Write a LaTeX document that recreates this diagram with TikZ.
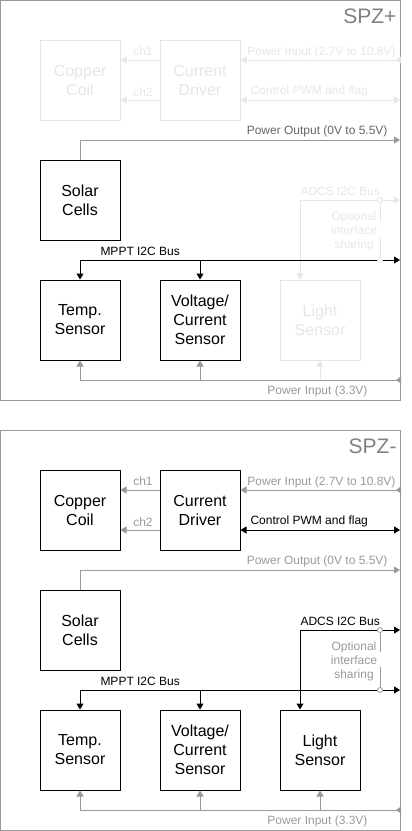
\documentclass[tikz,border=0pt]{standalone}
\usepackage{fontspec}
\setmainfont{Liberation Sans}
\usetikzlibrary{arrows.meta}
\definecolor{fade}{HTML}{E6E6E6}
\definecolor{mid}{HTML}{999999}
\definecolor{dk}{HTML}{666666}
\definecolor{lbl}{HTML}{808080}
\begin{document}
\begin{tikzpicture}[x=1pt,y=-1pt, line width=1pt,
  box/.style={draw, minimum width=80pt, minimum height=80pt, inner sep=0pt, align=center, font=\fontsize{16}{19}\selectfont},
  fadebox/.style={box, draw=fade, text=fade},
  lab/.style={inner sep=0pt, font=\fontsize{12}{14}\selectfont},
  biglab/.style={inner sep=0pt, font=\fontsize{21}{24}\selectfont, text=lbl, anchor=base east},
  arr/.style={-{Triangle[length=6pt,width=7pt]}},
  darr/.style={{Triangle[length=6pt,width=7pt]}-{Triangle[length=6pt,width=7pt]}},
  optc/.style={circle, draw, fill=white, minimum size=5pt, inner sep=0pt, line width=0.8pt},
  port/.style={fill},
]
\useasboundingbox (0,0) rectangle (412,831);

% ---------------- SPZ+ ----------------
\begin{scope}
\draw[mid] (0.5,0.5) rectangle (400.5,400.5);
\node[biglab] (aspz) at (397,23) {SPZ+};
\node[fadebox] (acoil) at (80,80) {Copper\\Coil};
\node[fadebox] (adrv) at (200,80) {Current\\Driver};
\node[box] (asol) at (80,200) {Solar\\Cells};
\node[box] (atemp) at (80,320) {Temp.\\Sensor};
\node[box] (avc) at (200,320) {Voltage/\\Current\\Sensor};
\node[fadebox] (alight) at (320,320) {Light\\Sensor};
\coordinate (apin) at (400,60);
\coordinate (apwm) at (400,100);
\coordinate (apout) at (400,140);
\coordinate (aadcs) at (400,200);
\coordinate (amppt) at (400,260);
\coordinate (ap33) at (400,380);
% coil / driver
\draw[arr, fade] (adrv.west |- apin) -- (acoil.east |- apin);
\draw[arr, fade] (adrv.west |- apwm) -- (acoil.east |- apwm);
\node[lab, text=fade, anchor=base] (ach1) at (143,55) {ch1};
\node[lab, text=fade, anchor=base] (ach2) at (143,96) {ch2};
\draw[arr, fade] (apin) -- (adrv.east |- apin);
\fill[fade] ([xshift=-4pt]apin) -- ++(5,-3.5) -- ++(0,7) -- cycle;
\node[lab, text=fade, anchor=base east] (apinl) at (396,55) {Power Input (2.7V to 10.8V)};
\draw[darr, fade] (adrv.east |- apwm) -- (apwm);
\node[lab, text=fade, anchor=base west] (apwml) at (250,94) {Control PWM and flag};
% power output
\draw[arr, mid] (asol.north) |- (apout);
\node[lab, text=dk, anchor=base east] (apoutl) at (388,134) {Power Output (0V to 5.5V)};
% ADCS
\draw[darr, fade] ([xshift=-20pt]alight.north) |- (aadcs);
\node[lab, text=fade, anchor=base west] (aadcsl) at (300,195) {ADCS I2C Bus};
% MPPT
\draw[darr] (atemp.north) |- (amppt);
\draw[arr] (avc.north |- amppt) -- (avc.north);
\node[lab, anchor=base west] (amppl) at (100,255) {MPPT I2C Bus};
% optional sharing
\node[optc, draw=fade] (ao1) at (380,200) {};
\node[optc, draw=fade] (ao2) at (380,260) {};
\draw[fade] (ao1.south) -- ++(0,19);
\draw[fade] (ao2.north) -- ++(0,-20);
\node[lab, text=fade, align=center] (aopt) at (354,231.5) {Optional\\interface\\sharing};
% power 3.3V
\draw[arr, mid] (ap33) -| (atemp.south);
\draw[arr, mid] (avc.south |- ap33) -- (avc.south);
\draw[arr, fade] (alight.south |- ap33) -- (alight.south);
\draw[mid] (alight.south |- ap33) -- (ap33);
\fill[mid] ([xshift=-4pt]ap33) -- ++(5,-3.5) -- ++(0,7) -- cycle;
\node[lab, text=mid, anchor=base east] (ap33l) at (368,394) {Power Input (3.3V)};
\end{scope}

% ---------------- SPZ- ----------------
\begin{scope}[yshift=-430pt]
\draw[mid] (0.5,0.5) rectangle (400.5,400.5);
\node[biglab] (bspz) at (397,23) {SPZ-};
\node[box] (bcoil) at (80,80) {Copper\\Coil};
\node[box] (bdrv) at (200,80) {Current\\Driver};
\node[box] (bsol) at (80,200) {Solar\\Cells};
\node[box] (btemp) at (80,320) {Temp.\\Sensor};
\node[box] (bvc) at (200,320) {Voltage/\\Current\\Sensor};
\node[box] (blight) at (320,320) {Light\\Sensor};
\coordinate (bpin) at (400,60);
\coordinate (bpwm) at (400,100);
\coordinate (bpout) at (400,140);
\coordinate (badcs) at (400,200);
\coordinate (bmppt) at (400,260);
\coordinate (bp33) at (400,380);
% coil / driver
\draw[arr, mid] (bdrv.west |- bpin) -- (bcoil.east |- bpin);
\draw[arr, mid] (bdrv.west |- bpwm) -- (bcoil.east |- bpwm);
\node[lab, text=mid, anchor=base] (bch1) at (143,55) {ch1};
\node[lab, text=mid, anchor=base] (bch2) at (143,96) {ch2};
\draw[arr, mid] (bpin) -- (bdrv.east |- bpin);
\fill[mid] ([xshift=-4pt]bpin) -- ++(5,-3.5) -- ++(0,7) -- cycle;
\node[lab, text=mid, anchor=base east] (bpinl) at (396,55) {Power Input (2.7V to 10.8V)};
\draw[darr] (bdrv.east |- bpwm) -- (bpwm);
\node[lab, anchor=base west] (bpwml) at (250,94) {Control PWM and flag};
% power output
\draw[arr, mid] (bsol.north) |- (bpout);
\node[lab, text=mid, anchor=base east] (bpoutl) at (388,134) {Power Output (0V to 5.5V)};
% ADCS
\draw[darr] ([xshift=-20pt]blight.north) |- (badcs);
\node[lab, anchor=base west] (badcsl) at (300,195) {ADCS I2C Bus};
% MPPT
\draw[darr] (btemp.north) |- (bmppt);
\draw[arr] (bvc.north |- bmppt) -- (bvc.north);
\node[lab, anchor=base west] (bmppl) at (100,255) {MPPT I2C Bus};
% optional sharing
\node[optc, draw=mid] (bo1) at (380,200) {};
\node[optc, draw=mid] (bo2) at (380,260) {};
\draw[mid] (bo1.south) -- ++(0,19);
\draw[mid] (bo2.north) -- ++(0,-20);
\node[lab, text=mid, align=center] (bopt) at (354,231.5) {Optional\\interface\\sharing};
% power 3.3V
\draw[arr, mid] (bp33) -| (btemp.south);
\draw[arr, mid] (bvc.south |- bp33) -- (bvc.south);
\draw[arr, mid] (blight.south |- bp33) -- (blight.south);
\fill[mid] ([xshift=-4pt]bp33) -- ++(5,-3.5) -- ++(0,7) -- cycle;
\node[lab, text=mid, anchor=base east] (bp33l) at (368,394) {Power Input (3.3V)};
\end{scope}
\end{tikzpicture}
\end{document}
